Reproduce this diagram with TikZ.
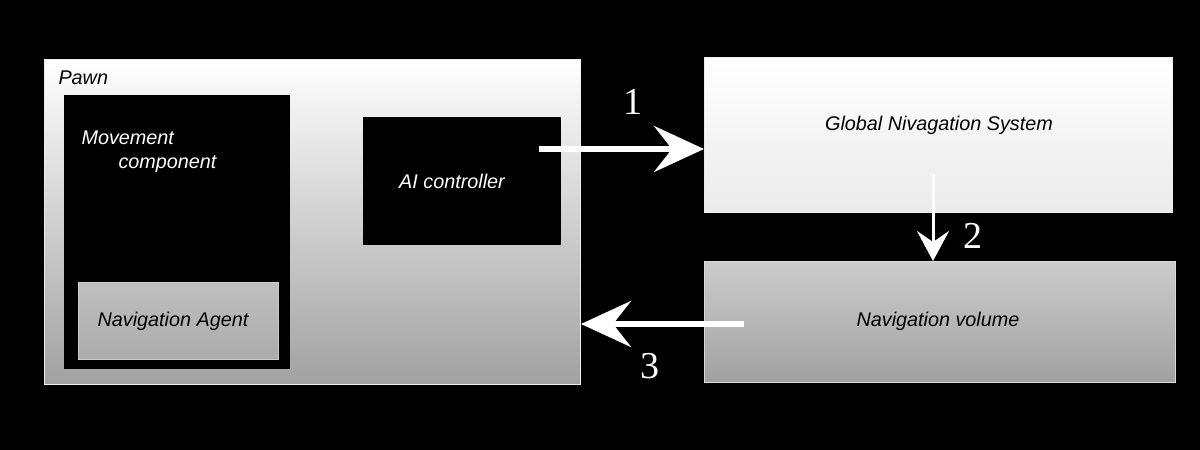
\documentclass[tikz,border=0pt]{standalone}
\usepackage{fontspec}
\setmainfont{Liberation Sans}
\newfontfamily\numfont{Liberation Serif}
\usetikzlibrary{arrows.meta}
\begin{document}
\begin{tikzpicture}[x=1pt,y=-1pt,
  box/.style={anchor=north west, inner sep=0pt, draw=white!85!gray, line width=1pt},
  lbl/.style={font=\itshape\fontsize{19.8}{23}\selectfont},
  num/.style={font=\numfont\fontsize{38}{40}\selectfont, text=white},
  bigarrow/.style={draw=white, line width=6pt, -{Stealth[length=50pt, width=46pt, inset=18pt]}},
  smallarrow/.style={draw=white, line width=3pt, -{Stealth[length=30pt, width=32pt, inset=11pt]}}]
\fill[black] (0,0) rectangle (1200,450);
\useasboundingbox (0,0) rectangle (1200,450);
% Pawn
\node[box, top color=white, bottom color=black!37, minimum width=536pt, minimum height=325pt] (pawn) at (44,59) {};
\node[lbl, anchor=base west] (pawnlbl) at (55,84) {Pawn};
% Movement component
\node[box, draw=none, fill=black, minimum width=226pt, minimum height=274pt] (move) at (63,94) {};
\node[lbl, text=white, anchor=base west] (movel1) at (78,144) {Movement};
\node[lbl, text=white, anchor=base west] (movel2) at (115,168) {component};
% Navigation Agent
\node[box, draw=black!20, top color=black!25, bottom color=black!33, minimum width=200pt, minimum height=77pt] (agent) at (78,282) {};
\node[lbl, anchor=center] (agentlbl) at (173,321) {Navigation Agent};
% AI controller
\node[box, draw=none, fill=black, minimum width=198pt, minimum height=128pt] (ai) at (362,116) {};
\node[lbl, text=white, anchor=center] (ailbl) at (452,181) {AI controller};
% Global Nivagation System
\node[box, top color=white, bottom color=black!8, minimum width=468pt, minimum height=155pt] (gns) at (704,57) {};
\node[lbl, anchor=center] (gnslbl) at (939,125) {Global Nivagation System};
% Navigation volume
\node[box, draw=black!15, top color=black!20, bottom color=black!37, minimum width=471pt, minimum height=121pt] (vol) at (704,261) {};
\node[lbl, anchor=center] (vollbl) at (938,321) {Navigation volume};
% arrows
\coordinate (a1s) at (539,149);
\coordinate (a2s) at (933,174);
\coordinate (a3s) at (744,324);
\draw[bigarrow] (a1s) -- (a1s -| gns.west);
\draw[smallarrow] (a2s) -- (a2s |- vol.north);
\draw[bigarrow] (a3s) -- (a3s -| pawn.east);
\node[num] (n1) at (633,102) {1};
\node[num] (n2) at (973,236) {2};
\node[num] (n3) at (650,366) {3};
\end{tikzpicture}
\end{document}
